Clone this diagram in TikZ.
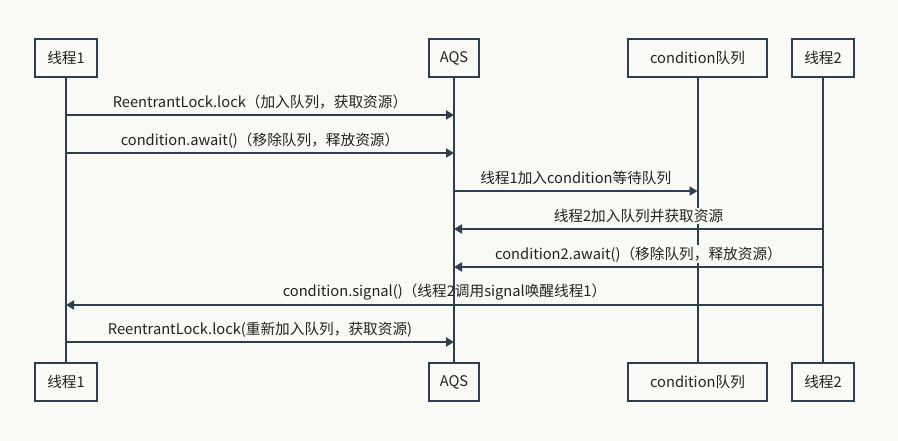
\documentclass[tikz,border=0pt]{standalone}
\usepackage{fontspec}
\setmainfont{Noto Sans CJK SC}
\usetikzlibrary{arrows.meta}
\definecolor{bg}{RGB}{249,249,246}
\definecolor{ln}{RGB}{44,62,80}
\definecolor{tx}{RGB}{34,34,34}
\begin{document}
\begin{tikzpicture}[x=0.75pt,y=-0.75pt,
  txt/.style={font=\fontsize{11}{13}\selectfont, text=tx},
  box/.style={txt, draw=ln, line width=1.5pt, fill=bg, minimum height=28.5pt, inner sep=0pt},
  life/.style={draw=ln, line width=1.5pt},
  msg/.style={draw=ln, line width=1.5pt, -{Triangle[length=6pt,width=6.75pt]}},
  lbl/.style={txt, fill=bg, inner sep=1pt, yshift=9.5pt}]
\fill[bg] (0,0) rectangle (898,441);
\useasboundingbox (0,0) rectangle (898,441);
% top boxes
\node[box, minimum width=46.5pt] (t1) at (66,58) {线程1};
\node[box, minimum width=37.5pt] (aqs) at (454,58) {AQS};
\node[box, minimum width=104.25pt] (cq) at (697.5,58) {condition队列};
\node[box, minimum width=46.5pt] (t2) at (823,58) {线程2};
% bottom boxes
\node[box, minimum width=46.5pt] (t1b) at (66,382) {线程1};
\node[box, minimum width=37.5pt] (aqsb) at (454,382) {AQS};
\node[box, minimum width=104.25pt] (cqb) at (697.5,382) {condition队列};
\node[box, minimum width=46.5pt] (t2b) at (823,382) {线程2};
% lifelines
\draw[life] (t1.south) -- (t1b.north);
\draw[life] (cq.south) -- (cqb.north);
\draw[life] (t2.south) -- (t2b.north);
% message rows
\coordinate (r1) at (0,115);
\coordinate (r2) at (0,153);
\coordinate (r3) at (0,191);
\coordinate (r4) at (0,229);
\coordinate (r5) at (0,267);
\coordinate (r6) at (0,305);
\coordinate (r7) at (0,342);
\draw[msg] (t1 |- r1) -- node[lbl]{ReentrantLock.lock（加入队列，获取资源）} (aqs |- r1);
\draw[msg] (t1 |- r2) -- node[lbl]{condition.await()（移除队列，释放资源）} (aqs |- r2);
\draw[msg] (aqs |- r3) -- node[lbl]{线程1加入condition等待队列} (cq |- r3);
\draw[msg] (t2 |- r4) -- node[lbl]{线程2加入队列并获取资源} (aqs |- r4);
\draw[msg] (t2 |- r5) -- node[lbl]{condition2.await()（移除队列，释放资源）} (aqs |- r5);
\draw[msg] (t2 |- r6) -- node[lbl]{condition.signal()（线程2调用signal唤醒线程1）} (t1 |- r6);
\draw[msg] (t1 |- r7) -- node[lbl]{ReentrantLock.lock(重新加入队列，获取资源)} (aqs |- r7);
\draw[life] (aqs.south) -- (aqsb.north);
\end{tikzpicture}
\end{document}
